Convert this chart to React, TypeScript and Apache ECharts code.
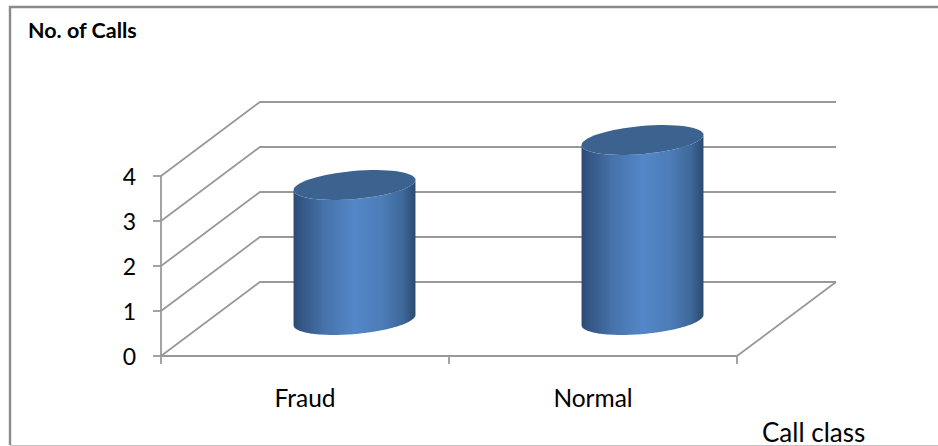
import React, { useEffect, useRef } from "react";
import * as echarts from "echarts";

const categories = ["Fraud", "Normal"];
const callCounts = [3, 4];
const yTicks = [0, 1, 2, 3, 4];

const AXIS_COLOR = "#999999";
const AXIS_WIDTH = 1.8;
const FONT = "Lato, 'Open Sans', sans-serif";

// Oblique projection of the chart box: depth of the floor and walls.
const DEPTH_X = 99;
const DEPTH_Y = -74;
// Columns stand half way into the box.
const BAR_DEPTH_X = 49.5;
const BAR_DEPTH_Y = -36;
// Cylinder cap: semi-axes and tilt of the ellipse.
const CAP_A = 61.2;
const CAP_B = 14;
const CAP_TILT = (-5.1 * Math.PI) / 180;
const ARC_STEPS = 64;

// Points of the tilted ellipse between two parameter angles.
function ellipseArc(cx: number, cy: number, from: number, to: number) {
  const points: number[][] = [];
  for (let i = 0; i <= ARC_STEPS; i++) {
    const t = from + ((to - from) * i) / ARC_STEPS;
    const px = CAP_A * Math.cos(t);
    const py = CAP_B * Math.sin(t);
    points.push([
      cx + px * Math.cos(CAP_TILT) - py * Math.sin(CAP_TILT),
      cy + px * Math.sin(CAP_TILT) + py * Math.cos(CAP_TILT),
    ]);
  }
  return points;
}

function wallRenderItem(params: any, api: any) {
  const value = api.value(0);
  const front = api.coord([0, value]);
  const left = params.coordSys.x;
  const right = left + params.coordSys.width;
  const y = front[1];
  const lineStyle = { stroke: AXIS_COLOR, lineWidth: AXIS_WIDTH, fill: "none" };
  const children: any[] = [
    {
      type: "polyline",
      shape: {
        points: [
          [left, y],
          [left + DEPTH_X, y + DEPTH_Y],
          [right + DEPTH_X, y + DEPTH_Y],
        ],
      },
      style: lineStyle,
    },
  ];
  if (value === 0) {
    children.push({
      type: "line",
      shape: { x1: right, y1: y, x2: right + DEPTH_X, y2: y + DEPTH_Y },
      style: lineStyle,
    });
  }
  return { type: "group", children };
}

function cylinderRenderItem(_params: any, api: any) {
  const category = api.value(0);
  const value = api.value(1);
  const base = api.coord([category, 0]);
  const top = api.coord([category, value]);
  const cx = base[0] + BAR_DEPTH_X;
  const baseY = base[1] + BAR_DEPTH_Y;
  const topY = top[1] + BAR_DEPTH_Y;
  // Side wall: lower half of the base ellipse, then the lower half of the cap going back.
  const side = [
    ...ellipseArc(cx, baseY, Math.PI, 0),
    ...ellipseArc(cx, topY, 0, Math.PI),
  ];
  const cap = ellipseArc(cx, topY, 0, Math.PI * 2);
  return {
    type: "group",
    children: [
      {
        type: "polygon",
        shape: { points: side },
        style: {
          fill: new echarts.graphic.LinearGradient(0, 0, 1, 0, [
            { offset: 0, color: "#2c4b73" },
            { offset: 0.08, color: "#36598a" },
            { offset: 0.25, color: "#4572a8" },
            { offset: 0.5, color: "#5487c8" },
            { offset: 0.72, color: "#4c7db9" },
            { offset: 0.9, color: "#3d6899" },
            { offset: 1, color: "#2b4a70" },
          ]),
        },
      },
      {
        type: "polygon",
        shape: { points: cap },
        style: { fill: "#3c638f" },
      },
    ],
  };
}

export default function App() {
  const ref = useRef<HTMLDivElement>(null);

  useEffect(() => {
    document.body.style.margin = "0";
    const chart = echarts.init(ref.current!, undefined, { renderer: "svg" });
    chart.setOption({
      animation: false,
      backgroundColor: "#ffffff",
      textStyle: { fontFamily: FONT },
      title: {
        text: "No. of Calls",
        left: 23,
        top: 14,
        textStyle: { fontFamily: FONT, fontSize: 21.5, fontWeight: "bold", color: "#000000" },
      },
      grid: { left: 161, right: 201, top: 176, bottom: 90, outerBoundsMode: "none", containLabel: false },
      xAxis: {
        type: "category",
        data: categories,
        name: "Call class",
        nameLocation: "end",
        nameGap: 25,
        nameTextStyle: {
          fontFamily: FONT,
          fontSize: 26,
          color: "#000000",
          verticalAlign: "top",
          lineHeight: 20,
          padding: [66, 0, 0, 0],
        },
        axisLine: { show: true, lineStyle: { color: AXIS_COLOR, width: AXIS_WIDTH } },
        axisTick: { show: true, alignWithLabel: false, length: 8, lineStyle: { color: AXIS_COLOR, width: AXIS_WIDTH } },
        axisLabel: { fontFamily: FONT, fontSize: 24.5, color: "#000000", margin: 29 },
      },
      yAxis: {
        type: "value",
        min: 0,
        max: 4,
        interval: 1,
        axisLine: { show: true, lineStyle: { color: AXIS_COLOR, width: AXIS_WIDTH } },
        axisTick: { show: true, length: 8, lineStyle: { color: AXIS_COLOR, width: AXIS_WIDTH } },
        splitLine: { show: false },
        axisLabel: { fontFamily: FONT, fontSize: 23, color: "#000000", margin: 25 },
      },
      graphic: [
        {
          type: "polyline",
          silent: true,
          shape: { points: [[10, 445], [10, 7], [938, 7]] },
          style: { fill: "none", stroke: "#8a8a8a", lineWidth: 2.4 },
        },
        {
          type: "line",
          silent: true,
          shape: { x1: 10, y1: 445.5, x2: 938, y2: 445.5 },
          style: { stroke: "#c4c4c4", lineWidth: 1 },
        },
      ],
      series: [
        {
          type: "custom",
          coordinateSystem: "cartesian2d",
          renderItem: wallRenderItem,
          data: yTicks.map((t) => [t]),
          encode: { y: 0 },
          silent: true,
          clip: false,
          z: 1,
        },
        {
          type: "custom",
          coordinateSystem: "cartesian2d",
          renderItem: cylinderRenderItem,
          data: categories.map((_, i) => [i, callCounts[i]]),
          encode: { x: 0, y: 1 },
          clip: false,
          z: 3,
        },
      ],
    });
    return () => chart.dispose();
  }, []);

  return (
    <div
      ref={ref}
      style={{ position: "absolute", left: 0, top: 0, width: 938, height: 446 }}
    />
  );
}
